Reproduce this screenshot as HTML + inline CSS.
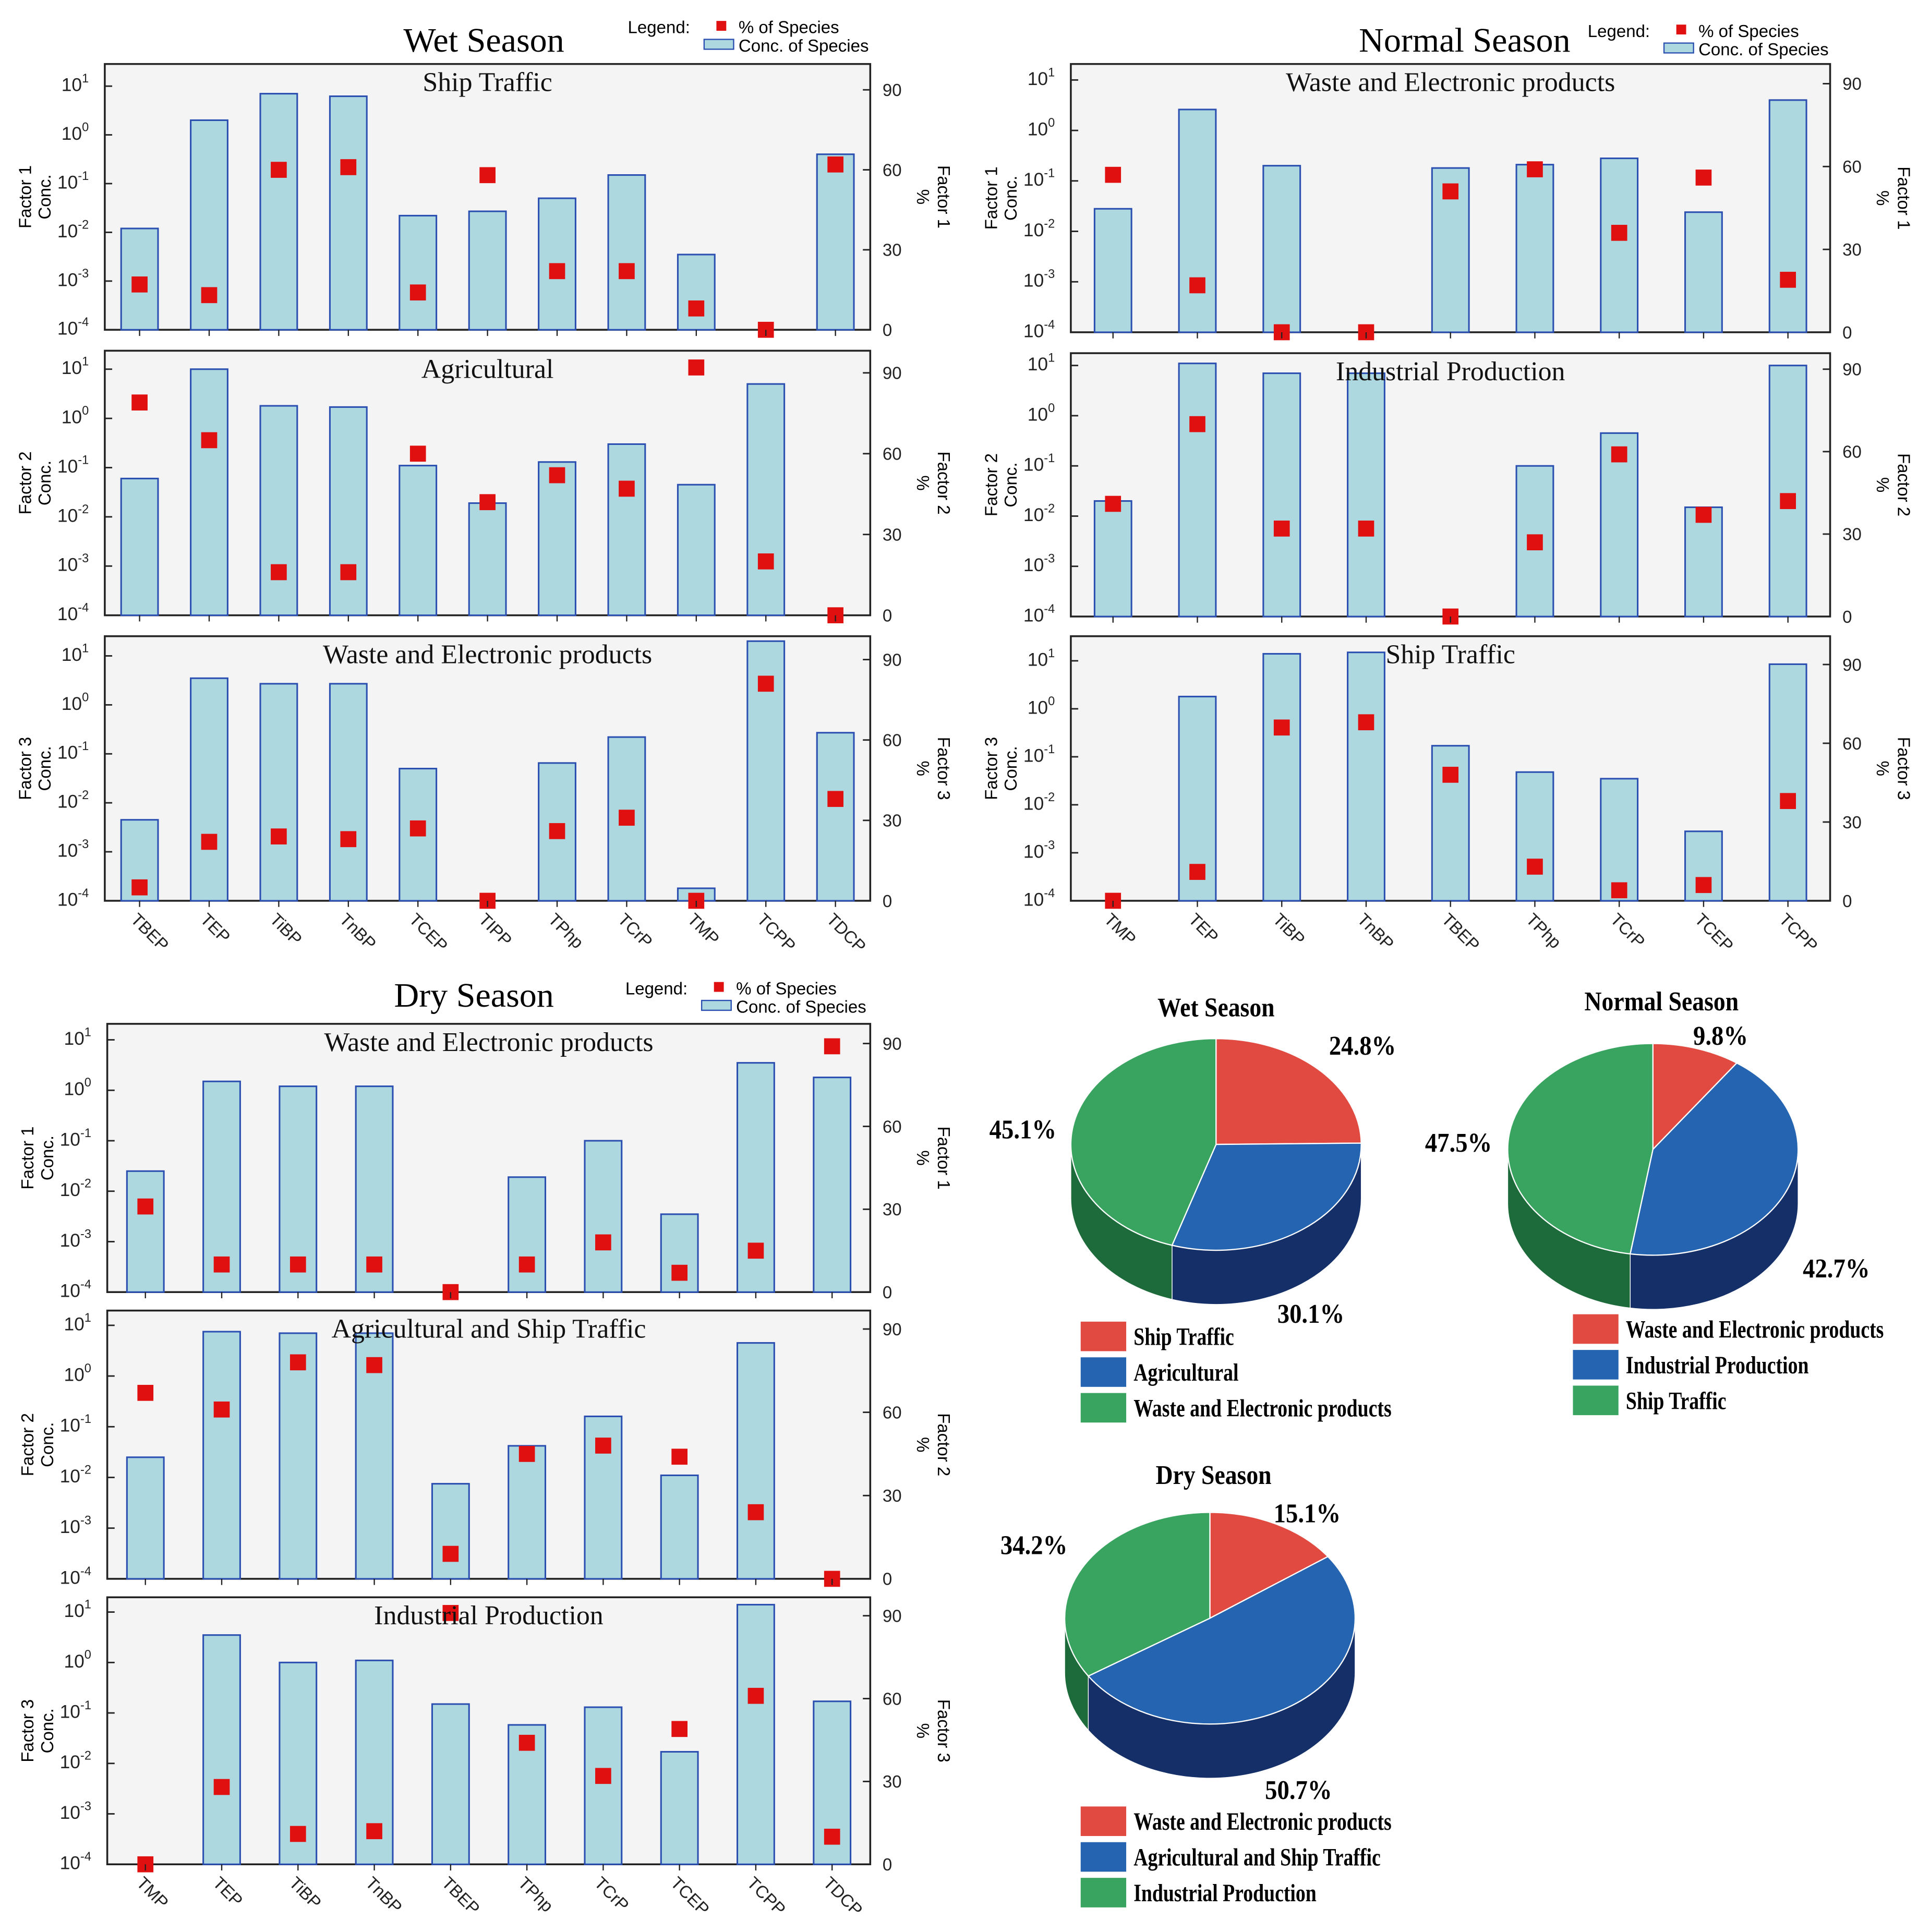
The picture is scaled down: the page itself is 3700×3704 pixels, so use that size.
<!DOCTYPE html>
<html><head><meta charset="utf-8"><style>
html,body{margin:0;padding:0;background:#fff}
svg{display:block}
text{font-family:"Liberation Sans",sans-serif}
.serif{font-family:"Liberation Serif",serif}
</style></head><body>
<svg id="c" width="3700" height="3704" viewBox="0 0 1568 1570" xmlns="http://www.w3.org/2000/svg"></svg>
<script>
// ---------- DATA ----------
const wetCats=["TBEP","TEP","TiBP","TnBP","TCEP","TIPP","TPhp","TCrP","TMP","TCPP","TDCP"];
const normCats=["TMP","TEP","TiBP","TnBP","TBEP","TPhp","TCrP","TCEP","TCPP"];
const dryCats=["TMP","TEP","TiBP","TnBP","TBEP","TPhp","TCrP","TCEP","TCPP","TDCP"];
// concentrations (0 = no bar)
const wetF1Conc=[0.012,2,7,6.2,0.022,0.027,0.05,0.15,0.0035,0,0.4];
const wetF1Pct=[17,13,60,61,14,58,22,22,8,0,62];
const wetF2Conc=[0.06,10,1.8,1.7,0.11,0.019,0.13,0.3,0.045,5,0];
const wetF2Pct=[79,65,16,16,60,42,52,47,92,20,0];
const wetF3Conc=[0.0045,3.5,2.7,2.7,0.05,0,0.065,0.22,0.00018,20,0.27];
const wetF3Pct=[5,22,24,23,27,0,26,31,0,81,38];
const normF1Conc=[0.028,2.6,0.2,0,0.18,0.21,0.28,0.024,4];
const normF1Pct=[57,17,0,0,51,59,36,56,19];
const normF2Conc=[0.02,11,7,7,0,0.1,0.45,0.015,10];
const normF2Pct=[41,70,32,32,0,27,59,37,42];
const normF3Conc=[0,1.8,14,15,0.17,0.048,0.035,0.0028,8.5];
const normF3Pct=[0,11,66,68,48,13,4,6,38];
const dryF1Conc=[0.025,1.5,1.2,1.2,0,0.019,0.1,0.0035,3.5,1.8];
const dryF1Pct=[31,10,10,10,0,10,18,7,15,89];
const dryF2Conc=[0.025,7.5,7,7,0.0075,0.042,0.16,0.011,4.5,0];
const dryF2Pct=[67,61,78,77,9,45,48,44,24,0];
const dryF3Conc=[0,3.5,1,1.1,0.15,0.058,0.13,0.017,14,0.17];
const dryF3Pct=[0,28,11,12,91,44,32,49,61,10];
const wetPieLabels=["Ship Traffic","Agricultural","Waste and Electronic products"];
const wetPieVals=[24.8,30.1,45.1];
const normPieLabels=["Waste and Electronic products","Industrial Production","Ship Traffic"];
const normPieVals=[9.8,42.7,47.5];
const dryPieLabels=["Waste and Electronic products","Agricultural and Ship Traffic","Industrial Production"];
const dryPieVals=[15.1,50.7,34.2];
const concTickExps=[-4,-3,-2,-1,0,1];
const pctTicks=[0,30,60,90];

// ---------- DRAW ----------
const svg=document.getElementById('c');
const NS="http://www.w3.org/2000/svg";
function el(tag,attrs,parent,txt){const e=document.createElementNS(NS,tag);for(const k in attrs)e.setAttribute(k,attrs[k]);if(txt!==undefined)e.textContent=txt;(parent||svg).appendChild(e);return e;}

function panel(g,x0,x1,yTop,yBot,y10,cats,conc,pct,title,fnum,showCats){
  const pg=el('g',{},g);
  
  
  el('rect',{x:x0,y:yTop,width:x1-x0,height:yBot-yTop,fill:'#f4f4f4',stroke:'#222','stroke-width':1.5},pg);
  const dec=(yBot-y10)/5;
  const yC=v=>yBot-(Math.log10(v)+4)*dec;
  const yP=p=>yBot-p/90*(yBot-y10-3);
  const step=(x1-x0)/cats.length;
  const xC=i=>x0+step*(i+0.5);
  concTickExps.forEach(e=>{const y=yC(Math.pow(10,e));
    el('line',{x1:x0,x2:x0+6,y1:y,y2:y,stroke:'#222','stroke-width':1.2},pg);
    const t=el('text',{x:x0-13,y:y+4,'font-size':15,'text-anchor':'end',fill:'#222'},pg);
    t.textContent='10';el('tspan',{dy:-7,'font-size':10},t,String(e));
  });
  pctTicks.forEach(p=>{const y=yP(p);
    el('line',{x1:x1-6,x2:x1,y1:y,y2:y,stroke:'#222','stroke-width':1.2},pg);
    el('text',{x:x1+10,y:y+5,'font-size':14,fill:'#222'},pg,String(p));
  });
  cats.forEach((c,i)=>{
    if(conc[i]>0){const r=el('rect',{x:xC(i)-15,y:yC(conc[i]),width:30,height:yBot-yC(conc[i]),fill:'#add8e0',stroke:'#2a4fb0','stroke-width':1.3},pg);
      
      }
  });
  cats.forEach((c,i)=>{
    const m=el('rect',{x:xC(i)-6.5,y:yP(pct[i])-6.5,width:13,height:13,fill:'#e01010'},pg);
    
    
  });
  cats.forEach((c,i)=>{el('line',{x1:xC(i),x2:xC(i),y1:yBot,y2:yBot+5,stroke:'#222'},pg);});
  const tt=el('text',{x:(x0+x1)/2,y:yTop+22,'font-size':22,'text-anchor':'middle',class:'serif',fill:'#111'},pg,title);
  
  const ym=(yTop+yBot)/2;
  el('text',{transform:`translate(${x0-60},${ym}) rotate(-90)`,'font-size':14,'text-anchor':'middle'},pg,'Factor '+fnum);
  el('text',{transform:`translate(${x0-44},${ym}) rotate(-90)`,'font-size':14,'text-anchor':'middle'},pg,'Conc.');
  el('text',{transform:`translate(${x1+38},${ym}) rotate(90)`,'font-size':14,'text-anchor':'middle'},pg,'%');
  el('text',{transform:`translate(${x1+55},${ym}) rotate(90)`,'font-size':14,'text-anchor':'middle'},pg,'Factor '+fnum);
  if(showCats){cats.forEach((c,i)=>{const t=el('text',{transform:`translate(${xC(i)-8},${yBot+16}) rotate(45)`,'font-size':14,fill:'#222'},pg,c);
    });}
}
function legend(g,x,y){
  const lg=el('g',{},g);
  el('text',{x:x,y:y,'font-size':14},lg,'Legend:');
  el('rect',{x:x+72,y:y-10,width:8,height:8,fill:'#e01010'},lg);
  el('text',{x:x+90,y:y,'font-size':14},lg,'% of Species');
  el('rect',{x:x+62,y:y+5,width:24,height:8,fill:'#add8e0',stroke:'#2a4fb0'},lg);
  el('text',{x:x+90,y:y+15,'font-size':14},lg,'Conc. of Species');
}
function season(name,title,tx,x0,x1,tops,cats,cs,ps,titles,lx,ly,ty){
  const g=el('g',{});
  el('text',{x:tx,y:ty,'font-size':28,'text-anchor':'middle',class:'serif'},g,title);
  legend(g,lx,ly);
  tops.forEach((t,k)=>panel(g,x0,x1,t[0],t[1],t[2],cats,cs[k],ps[k],titles[k],k+1,k===2));
}
season('wet-season-chart','Wet Season',393,85,707,[[52,268,70],[285,500,300],[517,732,533]],wetCats,
  [wetF1Conc,wetF2Conc,wetF3Conc],[wetF1Pct,wetF2Pct,wetF3Pct],["Ship Traffic","Agricultural","Waste and Electronic products"],510,27,42);
season('normal-season-chart','Normal Season',1190,870,1487,[[52,270,65],[287,501,297],[517,732,537]],normCats,
  [normF1Conc,normF2Conc,normF3Conc],[normF1Pct,normF2Pct,normF3Pct],["Waste and Electronic products","Industrial Production","Ship Traffic"],1290,30,42);
season('dry-season-chart','Dry Season',385,87,707,[[832,1050,845],[1065,1283,1077],[1298,1515,1310]],dryCats,
  [dryF1Conc,dryF2Conc,dryF3Conc],[dryF1Pct,dryF2Pct,dryF3Pct],["Waste and Electronic products","Agricultural and Ship Traffic","Industrial Production"],508,808,818);

// ---------- PIES ----------
const pieTop=['#e04a40','#2464b0','#38a460'];
const pieSide=['#a02a22','#152f68','#1d6a3a'];
function condense(t,f){try{const w=t.getComputedTextLength();t.setAttribute('textLength',w*f);t.setAttribute('lengthAdjust','spacingAndGlyphs');}catch(e){}}
function pie(name,title,cx,cy,vals,labels,labPos,lx,ly,tx,ty){
  const g=el('g',{});
  const rx=118,ry=86,d=44;
  const tt=el('text',{x:tx,y:ty,'font-size':22,'font-weight':'bold','text-anchor':'middle',class:'serif'},g,title);
  condense(tt,0.88);
  const tot=vals.reduce((a,b)=>a+b,0);
  let a=-Math.PI/2;const ang=[];
  vals.forEach(v=>{const b=a+v/tot*2*Math.PI;ang.push([a,b]);a=b;});
  const P=(t,dy)=>[cx+rx*Math.cos(t),cy+ry*Math.sin(t)+(dy||0)];
  ang.forEach(([s,e],i)=>{
    [[0,Math.PI],[2*Math.PI,3*Math.PI]].forEach(([lo,hi])=>{
      const s2=Math.max(s,lo),e2=Math.min(e,hi);
      if(e2>s2){const p1=P(s2),p2=P(e2),p3=P(e2,d),p4=P(s2,d);
        const p=el('path',{d:`M${p1}A${rx},${ry} 0 0 1 ${p2}L${p3}A${rx},${ry} 0 0 0 ${p4}Z`,fill:pieSide[i],stroke:'#fff','stroke-width':0.6},g);
        }
    });
  });
  ang.forEach(([s,e],i)=>{
    const p1=P(s),p2=P(e),large=(e-s)>Math.PI?1:0;
    const p=el('path',{d:`M${cx},${cy}L${p1}A${rx},${ry} 0 ${large} 1 ${p2}Z`,fill:pieTop[i],stroke:'#fff','stroke-width':1},g);
    
    const lt=el('text',{x:labPos[i][0],y:labPos[i][1],'font-size':22,'font-weight':'bold','text-anchor':'middle',class:'serif'},g,vals[i].toFixed(1)+'%');
    condense(lt,0.9);
  });
  labels.forEach((l,i)=>{
    const r=el('rect',{x:lx,y:ly+i*29,width:37,height:24,fill:pieTop[i]},g);
    
    const t=el('text',{x:lx+43,y:ly+i*29+19,'font-size':20,'font-weight':'bold',class:'serif'},g,l);
    condense(t,0.8);
  });
}
pie('wet-season-pie','Wet Season',988,930,wetPieVals,wetPieLabels,[[1107,857],[1065,1075],[831,925]],878,1074,988,826);
pie('normal-season-pie','Normal Season',1343,934,normPieVals,normPieLabels,[[1398,849],[1492,1038],[1185,936]],1278,1068,1350,821);
pie('dry-season-pie','Dry Season',983,1315,dryPieVals,dryPieLabels,[[1062,1237],[1055,1462],[840,1263]],878,1468,986,1206);
</script>
</body></html>
